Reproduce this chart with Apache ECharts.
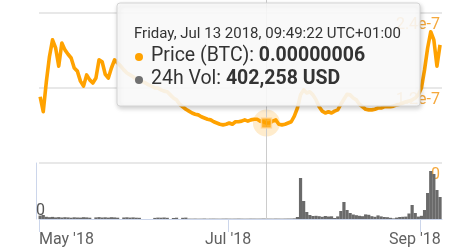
<!DOCTYPE html>
<html><head><meta charset="utf-8">
<script src="https://cdn.jsdelivr.net/npm/echarts@6/dist/echarts.min.js"></script>
<style>html,body{margin:0;padding:0;background:#fff}#c{width:466px;height:251px}</style>
</head><body><div id="c"></div>
<script>
// ---- data ----
const firstPoint = [2018, 4, 1, 8, 49, 22];   // UTC, daily points from here
const axisStart = [2018, 4, 1];
const axisEnd = [2018, 8, 8];
const tickDates = [[2018, 4, 1], [2018, 6, 1], [2018, 8, 1]];
const monthNames = ['Jan','Feb','Mar','Apr','May','Jun','Jul','Aug','Sep','Oct','Nov','Dec'];
const dayNames = ['Sunday','Monday','Tuesday','Wednesday','Thursday','Friday','Saturday'];
const priceTicks = [0, 1.2e-7, 2.4e-7];
const priceValues = [
 1.06e-7, 8.2e-8, 1.30e-7, 1.70e-7, 1.97e-7, 1.84e-7, 1.55e-7, 1.92e-7, 1.81e-7, 1.74e-7,
 1.68e-7, 1.52e-7, 1.47e-7, 1.31e-7, 1.23e-7, 1.41e-7, 1.33e-7, 1.28e-7, 1.36e-7, 1.65e-7,
 1.62e-7, 1.42e-7, 1.36e-7, 1.52e-7, 1.65e-7, 1.60e-7, 1.55e-7, 1.49e-7, 1.44e-7, 1.41e-7,
 1.38e-7, 1.34e-7, 1.33e-7, 1.30e-7, 1.28e-7, 1.25e-7, 1.23e-7, 1.20e-7, 1.20e-7, 1.17e-7,
 1.15e-7, 1.14e-7, 1.09e-7, 1.04e-7, 1.01e-7, 9.4e-8, 9.0e-8, 8.6e-8, 8.3e-8, 8.0e-8,
 7.8e-8, 7.7e-8, 7.4e-8, 7.2e-8, 7.0e-8, 6.9e-8, 6.6e-8, 6.4e-8, 6.2e-8, 6.1e-8,
 6.2e-8, 6.4e-8, 6.2e-8, 6.6e-8, 6.6e-8, 6.7e-8, 6.9e-8, 6.7e-8, 6.9e-8, 7.0e-8,
 7.0e-8, 6.7e-8, 6.6e-8, 6.4e-8, 6.4e-8, 6.7e-8, 6.9e-8, 6.2e-8, 6.1e-8, 6.2e-8,
 6.4e-8, 6.6e-8, 7.5e-8, 8.8e-8, 1.09e-7, 1.17e-7, 1.12e-7, 1.14e-7, 1.09e-7, 1.01e-7,
 9.0e-8, 8.3e-8, 8.0e-8, 8.2e-8, 8.0e-8, 8.3e-8, 8.5e-8, 9.4e-8, 1.02e-7, 1.10e-7,
 1.09e-7, 1.04e-7, 1.01e-7, 9.4e-8, 9.0e-8, 8.6e-8, 8.5e-8, 8.5e-8, 8.6e-8, 8.8e-8,
 8.8e-8, 9.0e-8, 9.0e-8, 9.0e-8, 9.1e-8, 9.3e-8, 9.4e-8, 9.6e-8, 9.8e-8, 9.9e-8,
 1.01e-7, 1.04e-7, 1.09e-7, 1.20e-7, 1.49e-7, 1.84e-7, 2.10e-7, 1.97e-7, 1.55e-7, 1.89e-7
];
// 24h volume, millions of USD
const volumeValues = [
 3.4, 4.0, 2.2, 1.8, 2.1, 1.6, 1.9, 1.5, 1.8, 1.6,
 1.3, 1.7, 1.5, 1.4, 1.8, 1.6, 1.3, 0, 1.6, 1.9,
 1.5, 1.7, 1.4, 1.8, 1.6, 1.3, 0, 1.5, 1.7, 1.4,
 1.6, 1.3, 1.2, 0, 0, 0, 0, 1.1, 1.4, 1.3,
 1.5, 1.2, 0, 1.0, 1.3, 0, 1.2, 1.4, 0.38, 0.35,
 0.41, 0.33, 0.36, 0.44, 0.31, 0.37, 0.40, 0.35, 0.32, 0.39,
 0.42, 0.36, 0.34, 0.38, 0.43, 0.37, 0.33, 0.35, 0.41, 0.39,
 0.36, 0.38, 0.44, 0.402258, 0.37, 0.35, 0.42, 0.39, 0.36, 0.41,
 0.45, 0.48, 0.6, 2.0, 41, 18, 7, 4, 3, 3.2,
 2.8, 2.2, 3.0, 2.5, 2.7, 1.0, 2.6, 8, 17, 9,
 6, 4.5, 3.8, 3.2, 2.8, 4.6, 4.2, 2.8, 2.2, 3.6,
 2.6, 2.0, 1.8, 1.2, 0.6, 1.4, 2.0, 2.2, 2.4, 5.5,
 14, 6, 2.4, 3.2, 9, 26, 48, 45, 29, 22
];
const volumeMax = 56;
const hoverIndex = 73;
const priceName = 'Price (BTC)';
const volumeName = '24h Vol';
const tzOffsetHours = 1;

// ---- build ----
const DAY = 86400000;
const t0 = Date.UTC.apply(null, firstPoint);
const times = priceValues.map((_, i) => t0 + i * DAY);
const xMin = Date.UTC.apply(null, axisStart);
const xMax = Date.UTC.apply(null, axisEnd);
const tickTimes = tickDates.map(d => Date.UTC.apply(null, d));
const priceData = priceValues.map((v, i) => [times[i], v]);
const volumeData = volumeValues.map((v, i) => [times[i], v]);
const hoverT = times[hoverIndex];
const hoverP = priceValues[hoverIndex];
const hoverV = volumeValues[hoverIndex];

const ORANGE = '#ffa200';
const FONT = 'Roboto';
const p2 = n => (n < 10 ? '0' : '') + n;
const hd = new Date(hoverT + tzOffsetHours * 3600000);
const header = dayNames[hd.getUTCDay()] + ', ' + monthNames[hd.getUTCMonth()] + ' ' + hd.getUTCDate() + ' ' +
  hd.getUTCFullYear() + ', ' + p2(hd.getUTCHours()) + ':' + p2(hd.getUTCMinutes()) + ':' + p2(hd.getUTCSeconds()) +
  ' UTC+' + p2(tzOffsetHours) + ':00';
const priceText = hoverP.toFixed(8);
const volText = Math.round(hoverV * 1e6).toLocaleString('en-US') + ' USD';

const gridL = 39, gridR = 24;
const chart = echarts.init(document.getElementById('c'), null, {renderer: 'canvas'});
chart.setOption({
  animation: false,
  textStyle: {fontFamily: FONT},
  grid: [
    {left: gridL, right: gridR, top: 13, height: 150},
    {left: gridL, right: gridR, top: 163, height: 56},
    {left: gridL, right: gridR, top: 0, height: 219}
  ],
  xAxis: [
    {type: 'value', gridIndex: 0, min: xMin, max: xMax, show: false},
    {type: 'value', gridIndex: 1, min: xMin, max: xMax,
      axisLine: {lineStyle: {color: '#ccd6eb', width: 1}},
      axisTick: {show: true, customValues: tickTimes, length: 13, lineStyle: {color: '#ccd6eb'}},
      splitLine: {show: false},
      axisLabel: {customValues: tickTimes, fontSize: 16, color: '#606060', margin: 13, fontFamily: FONT,
        alignMinLabel: 'left', showMinLabel: true, showMaxLabel: true,
        formatter: v => {
          const d = new Date(v);
          const s = monthNames[d.getUTCMonth()] + " '" + String(d.getUTCFullYear()).slice(2);
          return d.getUTCMonth() === 8 ? '{s|' + s + '}' : s;
        },
        rich: {s: {fontSize: 16, color: '#606060', fontFamily: FONT, padding: [0, 11, 0, 0]}}
      }},
    {type: 'value', gridIndex: 2, min: xMin, max: xMax, show: false}
  ],
  yAxis: [
    {type: 'value', gridIndex: 0, position: 'right', min: priceTicks[0], max: priceTicks[2], interval: priceTicks[1],
      axisLine: {show: false}, axisTick: {show: false},
      splitLine: {lineStyle: {color: '#e8e8e8', width: 2}},
      axisLabel: {inside: true, margin: 2, fontSize: 16, color: '#f5a83c', verticalAlign: 'top', padding: [4, 0, 0, 0],
        fontFamily: FONT,
        formatter: v => v === 0 ? '0' : v.toExponential(1)}},
    {type: 'value', gridIndex: 1, position: 'left', offset: 3, min: 0, max: volumeMax, interval: volumeMax,
      axisLine: {show: true, lineStyle: {color: '#ccd6eb'}}, axisTick: {show: false}, splitLine: {show: false},
      axisLabel: {inside: true, margin: 0, fontSize: 16, color: '#555', verticalAlign: 'bottom', fontFamily: FONT,
        formatter: v => v === 0 ? '0' : ''}},
    {type: 'value', gridIndex: 2, min: 0, max: 1, show: false}
  ],
  series: [
    {type: 'line', xAxisIndex: 2, yAxisIndex: 2, data: [[hoverT, 0]], showSymbol: false, symbol: 'none',
      lineStyle: {opacity: 0}, z: 1, silent: true,
      markLine: {silent: true, symbol: ['none', 'none'], label: {show: false},
        lineStyle: {color: '#cccccc', width: 1, type: 'solid'}, data: [{xAxis: hoverT}]}},
    {type: 'bar', name: volumeName, xAxisIndex: 1, yAxisIndex: 1, data: volumeData,
      barWidth: 3.2, itemStyle: {color: '#6a6a6a'}, z: 2},
    {type: 'line', name: priceName, xAxisIndex: 0, yAxisIndex: 0, data: priceData, showSymbol: false,
      symbol: 'none', lineStyle: {color: ORANGE, width: 3.6, join: 'round'}, z: 3},
    {type: 'scatter', xAxisIndex: 0, yAxisIndex: 0, data: [[hoverT, hoverP]], symbol: 'circle', symbolSize: 27,
      itemStyle: {color: 'rgba(255,162,0,0.25)'}, z: 4, silent: true},
    {type: 'scatter', xAxisIndex: 0, yAxisIndex: 0, data: [[hoverT, hoverP]], symbol: 'rect', symbolSize: 10,
      itemStyle: {color: ORANGE, borderColor: '#ffd79a', borderWidth: 1.5}, z: 5, silent: true}
  ],
  graphic: [{
    type: 'group', z: 100, children: [
      {type: 'rect', z: 100, shape: {x: 117, y: 3, width: 303, height: 103, r: 3},
        style: {fill: 'rgba(255,255,255,0.88)', stroke: '#d4d4d4', lineWidth: 1,
          shadowBlur: 5, shadowOffsetX: 1, shadowOffsetY: 2, shadowColor: 'rgba(0,0,0,0.22)'}},
      {type: 'text', z: 101, x: 134, y: 34,
        style: {text: header, fontSize: 15, fontFamily: FONT, fill: '#333', verticalAlign: 'middle'}},
      {type: 'circle', z: 101, shape: {cx: 139, cy: 57, r: 4}, style: {fill: ORANGE}},
      {type: 'text', z: 101, x: 151, y: 56.5,
        style: {text: '{n|' + priceName + ': }{b|' + priceText + '}', verticalAlign: 'middle',
          rich: {n: {fontSize: 19.5, fontFamily: FONT, fill: '#333'},
                 b: {fontSize: 19.5, fontFamily: FONT, fill: '#333', fontWeight: 'bold'}}}},
      {type: 'circle', z: 101, shape: {cx: 139, cy: 80, r: 4}, style: {fill: '#707070'}},
      {type: 'text', z: 101, x: 151, y: 79.5,
        style: {text: '{n|' + volumeName + ': }{b|' + volText + '}', verticalAlign: 'middle',
          rich: {n: {fontSize: 19.5, fontFamily: FONT, fill: '#333'},
                 b: {fontSize: 19.5, fontFamily: FONT, fill: '#333', fontWeight: 'bold'}}}}
    ]
  }]
});
</script></body></html>
